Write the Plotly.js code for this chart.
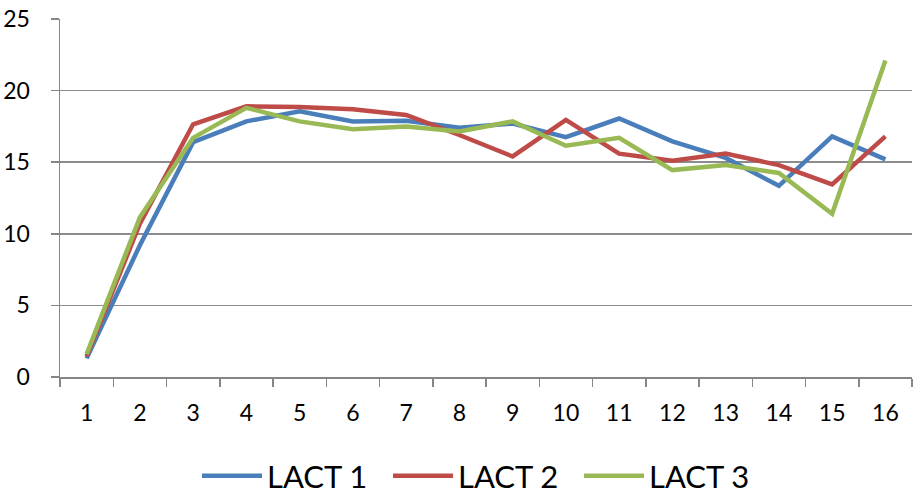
<!DOCTYPE html>
<html>
<head>
<meta charset="utf-8">
<script src="https://cdn.plot.ly/plotly-3.0.1.min.js"></script>
<style>html,body{margin:0;padding:0;background:#fff;}#chart{width:914px;height:490px;}</style>
</head>
<body>
<div id="chart"></div>
<script>
const categories = ['1','2','3','4','5','6','7','8','9','10','11','12','13','14','15','16'];
const lact1 = [1.3, 9.2, 16.4, 17.85, 18.55, 17.85, 17.9, 17.4, 17.7, 16.75, 18.05, 16.45, 15.3, 13.35, 16.8, 15.2];
const lact2 = [1.45, 10.7, 17.65, 18.9, 18.85, 18.7, 18.3, 16.9, 15.4, 17.95, 15.6, 15.1, 15.6, 14.8, 13.45, 16.8];
const lact3 = [1.6, 11.15, 16.7, 18.8, 17.85, 17.3, 17.5, 17.15, 17.85, 16.15, 16.7, 14.45, 14.8, 14.25, 11.4, 22.1];
const seriesNames = ['LACT 1', 'LACT 2', 'LACT 3'];
const yTicks = [0, 5, 10, 15, 20, 25];

const colors = ['#4A7EBB', '#BE4B48', '#98B954'];
const data = [lact1, lact2, lact3].map((vals, i) => ({
  type: 'scatter', mode: 'lines', x: categories, y: vals, name: seriesNames[i],
  line: {color: colors[i], width: 4.5}
}));

const layout = {
  width: 914, height: 490,
  margin: {l: 60, r: 2, t: 19, b: 113, autoexpand: false},
  paper_bgcolor: '#fff', plot_bgcolor: '#fff',
  font: {family: 'Lato, "Open Sans", sans-serif', color: '#000', size: 23},
  showlegend: true,
  legend: {
    orientation: 'h', xref: 'container', x: 197 / 914, xanchor: 'left',
    yref: 'container', y: (490 - 476) / 490, yanchor: 'middle',
    font: {size: 31, color: '#000'}, itemwidth: 60, entrywidth: 116, tracegroupgap: 0,
    bgcolor: 'rgba(0,0,0,0)'
  },
  xaxis: {
    type: 'category', tickson: 'boundaries', range: [-0.5, 15.5],
    showline: true, linecolor: '#868686', linewidth: 1.5,
    ticks: 'outside', ticklen: 8, tickcolor: '#868686', tickwidth: 1.5,
    showgrid: false, zeroline: false, ticklabelstandoff: 15, automargin: false,
    tickfont: {size: 23, color: '#000'}
  },
  yaxis: {
    range: [0, 25], tickvals: yTicks, ticktext: yTicks.map(String),
    showline: true, linecolor: '#868686', linewidth: 1.5,
    ticks: 'outside', ticklen: 8, tickcolor: '#868686', tickwidth: 1.5,
    showgrid: true, gridcolor: '#8c8c8c', gridwidth: 1.5, zeroline: false, automargin: false,
    ticklabelstandoff: 16, tickfont: {size: 23, color: '#000'}
  }
};
Plotly.newPlot('chart', data, layout, {displayModeBar: false, staticPlot: true});
</script>
</body>
</html>
